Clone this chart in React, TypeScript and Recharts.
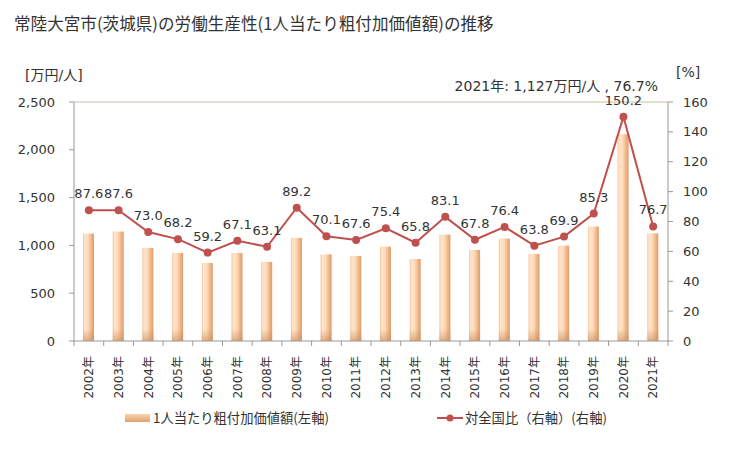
import React from "react";
import {
  ComposedChart,
  Bar,
  Line,
  XAxis,
  YAxis,
  ReferenceLine,
  LabelList,
} from "recharts";

// values
const years = [
  "2002年", "2003年", "2004年", "2005年", "2006年", "2007年", "2008年",
  "2009年", "2010年", "2011年", "2012年", "2013年", "2014年", "2015年",
  "2016年", "2017年", "2018年", "2019年", "2020年", "2021年",
];
const perPerson = [
  1124, 1145, 974, 921, 816, 921, 827, 1079, 907, 890, 987, 858, 1113, 953,
  1071, 911, 998, 1197, 2164, 1127,
];
const ratio = [
  87.6, 87.6, 73.0, 68.2, 59.2, 67.1, 63.1, 89.2, 70.1, 67.6, 75.4, 65.8,
  83.1, 67.8, 76.4, 63.8, 69.9, 85.3, 150.2, 76.7,
];
const leftTicks = [0, 500, 1000, 1500, 2000, 2500];
const rightTicks = [0, 20, 40, 60, 80, 100, 120, 140, 160];

const data = years.map((year, i) => ({
  year,
  value: perPerson[i],
  ratio: ratio[i],
}));

const FONT = "'DejaVu Sans', 'Noto Sans CJK JP', sans-serif";
const JP_FONT = "'Noto Sans CJK JP', 'DejaVu Sans', sans-serif";
const LINE_COLOR = "#c0504d";
const AXIS_COLOR = "#999999";
const TEXT_COLOR = "#333333";

const PLOT_LEFT = 74;
const PLOT_RIGHT = 668;
const BAND = (PLOT_RIGHT - PLOT_LEFT) / years.length;

const YearTick = (props: any) => {
  const { x, y, payload, index } = props;
  const axisY = y - 7;
  return (
    <g>
      <line x1={x - BAND / 2} x2={x - BAND / 2} y1={axisY} y2={axisY + 5} stroke={AXIS_COLOR} />
      {index === years.length - 1 && (
        <line x1={x + BAND / 2} x2={x + BAND / 2} y1={axisY} y2={axisY + 5} stroke={AXIS_COLOR} />
      )}
      <text
        x={x}
        y={axisY + 15}
        transform={`rotate(-90 ${x} ${axisY + 15})`}
        textAnchor="end"
        dy="0.36em"
        fontSize={12}
        fill={TEXT_COLOR}
        fontFamily={FONT}
      >
        {payload.value}
      </text>
    </g>
  );
};

const ShadedBar = (props: any) => {
  const { x, y, width, height } = props;
  if (!height || height <= 0) return null;
  const shade = Math.min(12, height);
  return (
    <g>
      <rect x={x} y={y} width={width} height={height} fill="url(#barGrad)" />
      <rect x={x} y={y + height - shade} width={width} height={shade} fill="url(#barShade)" />
    </g>
  );
};

export default function App() {
  return (
    <div
      style={{
        position: "absolute",
        left: 0,
        top: 0,
        width: 729,
        height: 450,
        background: "#fff",
        fontFamily: FONT,
        color: TEXT_COLOR,
      }}
    >
      <div style={{ position: "absolute", left: 14, top: 11, fontSize: 16.6, fontFamily: JP_FONT, color: "#333", whiteSpace: "nowrap" }}>
        常陸大宮市(茨城県)の労働生産性(1人当たり粗付加価値額)の推移
      </div>
      <div style={{ position: "absolute", left: 25, top: 64, fontSize: 14 }}>[万円/人]</div>
      <div style={{ position: "absolute", left: 676, top: 64, fontSize: 14 }}>[%]</div>
      <div style={{ position: "absolute", right: 729 - 658, top: 75, fontSize: 14, whiteSpace: "nowrap" }}>
        2021年: 1,127万円/人 , 76.7%
      </div>

      <ComposedChart
        width={729}
        height={450}
        data={data}
        margin={{ top: 102, right: 0, bottom: 0, left: 0 }}
      >
        <defs>
          <linearGradient id="barGrad" x1="0" y1="0" x2="1" y2="0">
            <stop offset="0%" stopColor="#f3c49a" />
            <stop offset="15%" stopColor="#ffe4ca" />
            <stop offset="45%" stopColor="#fddcbc" />
            <stop offset="75%" stopColor="#f0b88a" />
            <stop offset="100%" stopColor="#dc9c6c" />
          </linearGradient>
          <linearGradient id="barShade" x1="0" y1="0" x2="0" y2="1">
            <stop offset="0%" stopColor="#c98a5a" stopOpacity={0} />
            <stop offset="100%" stopColor="#c98a5a" stopOpacity={0.6} />
          </linearGradient>
        </defs>
        <XAxis
          dataKey="year"
          interval={0}
          height={109}
          tickLine={false}
          tickSize={5}
          tickMargin={2}
          axisLine={{ stroke: AXIS_COLOR }}
          tick={<YearTick />}
        />
        <YAxis
          yAxisId="left"
          width={74}
          domain={[0, 2500]}
          ticks={leftTicks}
          tickFormatter={(v: number) => v.toLocaleString("en-US")}
          axisLine={{ stroke: AXIS_COLOR }}
          tickLine={{ stroke: AXIS_COLOR }}
          tickSize={5}
          tickMargin={14}
          tick={{ fontSize: 13, fill: TEXT_COLOR, fontFamily: FONT }}
        />
        <YAxis
          yAxisId="right"
          orientation="right"
          width={61}
          domain={[0, 160]}
          ticks={rightTicks}
          axisLine={{ stroke: AXIS_COLOR }}
          tickLine={{ stroke: AXIS_COLOR }}
          tickSize={5}
          tickMargin={10}
          tick={{ fontSize: 13, fill: TEXT_COLOR, fontFamily: FONT, textAnchor: "start" }}
        />
        <ReferenceLine yAxisId="left" y={2500} stroke="#c8bea2" strokeWidth={1} />
        <Bar
          yAxisId="left"
          dataKey="value"
          barSize={11}
          shape={<ShadedBar />}
          isAnimationActive={false}
        />
        <Line
          yAxisId="right"
          dataKey="ratio"
          type="linear"
          stroke={LINE_COLOR}
          strokeWidth={2}
          dot={{ r: 4, fill: LINE_COLOR, stroke: LINE_COLOR, strokeWidth: 0 }}
          activeDot={false}
          isAnimationActive={false}
        >
          <LabelList
            dataKey="ratio"
            position="top"
            offset={12}
            formatter={(v: any) => Number(v).toFixed(1)}
            style={{ fontSize: 13, fill: TEXT_COLOR, fontFamily: FONT }}
          />
        </Line>
      </ComposedChart>

      <div
        style={{
          position: "absolute",
          left: 125,
          top: 408,
          display: "flex",
          alignItems: "center",
          fontSize: 13.3,
          fontFamily: JP_FONT,
          whiteSpace: "nowrap",
        }}
      >
        <svg width={25} height={10} style={{ marginRight: 3 }}>
          <defs>
            <linearGradient id="legGrad" x1="0" y1="0" x2="0" y2="1">
              <stop offset="0%" stopColor="#fbd3ae" />
              <stop offset="100%" stopColor="#e0a070" />
            </linearGradient>
          </defs>
          <rect x={0} y={1} width={25} height={8} fill="url(#legGrad)" />
        </svg>
        <span>1人当たり粗付加価値額(左軸)</span>
      </div>
      <div
        style={{
          position: "absolute",
          left: 437,
          top: 408,
          display: "flex",
          alignItems: "center",
          fontSize: 13.3,
          fontFamily: JP_FONT,
          whiteSpace: "nowrap",
        }}
      >
        <svg width={26} height={10} style={{ marginRight: 2 }}>
          <line x1={0} x2={26} y1={5} y2={5} stroke={LINE_COLOR} strokeWidth={2} />
          <circle cx={13} cy={5} r={3.5} fill={LINE_COLOR} />
        </svg>
        <span>対全国比（右軸）(右軸)</span>
      </div>
    </div>
  );
}
